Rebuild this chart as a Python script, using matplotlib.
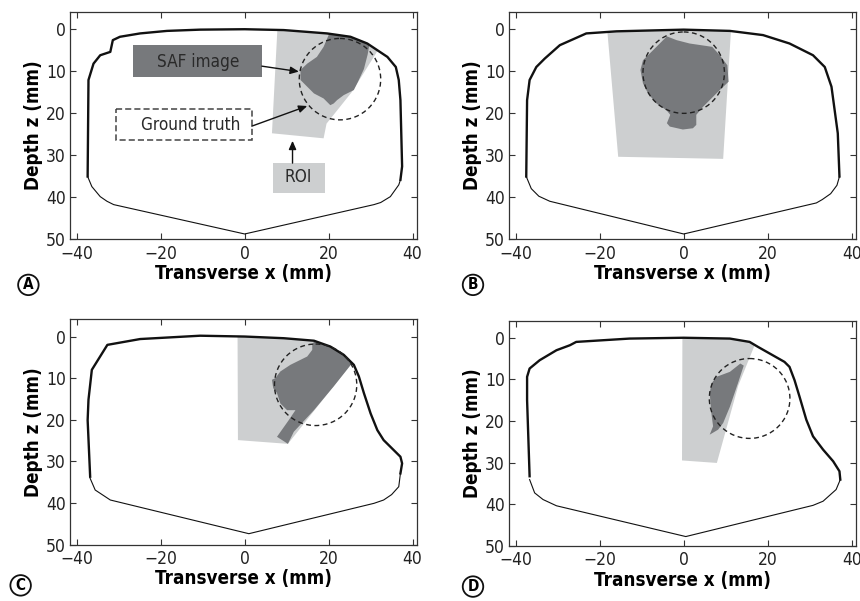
import matplotlib
matplotlib.use("Agg")
import matplotlib.pyplot as plt
from matplotlib.patches import Polygon, Circle, Rectangle

plt.rcParams['font.family'] = ['DejaVu Sans']
plt.rcParams['font.stretch'] = 'condensed'

ROI_COLOR = '#cdcfd0'
SAF_COLOR = '#77797c'

# ---- panel A ----
A_top_x = [-37.4, -37.2, -36.0, -34.4, -32.0, -31.4, -29.7, -24.9, -18.5, -10.6, 0, 9.3, 19.6, 25.2, 29.2, 34.0, 36.0, 36.7, 37.1, 37.5, 37.1]
A_top_z = [35.1, 12.1, 8.2, 6.2, 5.4, 2.6, 1.8, 1.0, 0.4, 0.1, 0, 0.2, 1.0, 1.8, 3.4, 6.6, 9.0, 12.1, 16.9, 32.7, 35.9]
A_bot_x = [37.1, 36.7, 34.7, 32.4, 30.8, 0, -31.2, -32.8, -34.4, -36.4, -37.4]
A_bot_z = [35.9, 37.1, 39.9, 41.3, 41.8, 48.8, 41.8, 41.0, 39.9, 37.5, 35.1]
A_roi_x = [7.9, 33.0, 25.5, 19.5, 18.8, 6.5]
A_roi_z = [-2.0, 3.0, 15.0, 22.5, 26.0, 24.8]
A_saf_x = [20.0, 20.0, 30.0, 29.3, 28.4, 27.0, 26.0, 23.6, 22.0, 21.2, 20.4, 18.8, 16.5, 14.9, 13.3, 13.3, 14.9, 17.2, 18.8]
A_saf_z = [1.4, -1.0, 2.0, 6.0, 9.5, 12.5, 14.5, 15.7, 16.9, 17.7, 18.1, 16.5, 15.3, 13.7, 12.1, 9.7, 8.2, 6.6, 4.2]
A_truth = (22.7, 11.9, 9.7)

# ---- panel B ----
B_top_x = [-37.5, -37.3, -36.7, -35.1, -33.1, -29.5, -23.2, -16.0, 0, 11.0, 18.9, 25.2, 30.8, 33.6, 35.2, 36.7, 37.1]
B_top_z = [35.1, 16.9, 12.1, 9.0, 7.0, 3.8, 1.0, 0.5, 0.1, 0.4, 1.4, 3.4, 6.2, 9.0, 13.7, 24.8, 35.1]
B_bot_x = [37.1, 36.5, 35.0, 33.0, 31.6, 0, -31.9, -34.5, -36.3, -37.5]
B_bot_z = [35.1, 37.2, 39.2, 40.6, 41.4, 48.8, 41.0, 39.8, 38.0, 35.1]
B_roi_x = [-18.4, 11.4, 9.4, -15.6]
B_roi_z = [-2.0, -2.0, 30.9, 30.4]
B_saf_x = [-4.0, -1.7, 1.4, 6.8, 8.6, 10.4, 10.7, 8.6, 6.6, 4.6, 3.0, 3.0, 2.2, -0.2, -3.3, -4.0, -3.2, -4.1, -6.5, -8.5, -9.7, -10.3, -9.7, -7.7, -5.7]
B_saf_z = [1.7, 2.6, 3.4, 4.2, 6.2, 8.6, 12.5, 14.5, 16.5, 18.5, 20.4, 22.8, 23.6, 23.9, 23.2, 22.4, 20.4, 19.3, 17.7, 15.3, 12.9, 9.7, 7.4, 5.4, 3.4]
B_truth = (0.0, 10.35, 9.7)

# ---- panel C ----
C_top_x = [-36.8, -37.4, -37.2, -36.4, -32.7, -24.9, -10.6, 0, 9.3, 16.5, 20.4, 23.6, 26.0, 27.2, 28.4, 30.0, 31.6, 33.1, 35.5, 37.1, 37.5, 37.1]
C_top_z = [33.7, 20.1, 15.2, 8.0, 2.0, 0.6, -0.2, 0, 0.4, 1.0, 2.4, 4.4, 6.8, 9.6, 13.6, 18.5, 22.5, 24.9, 27.3, 28.9, 30.5, 32.9]
C_bot_x = [37.1, 36.7, 35.0, 33.1, 30.8, 1.0, -32.0, -35.6, -36.8]
C_bot_z = [32.9, 36.1, 38.0, 39.3, 40.1, 47.4, 39.3, 36.9, 34.1]
C_roi_x = [-1.7, 30.0, 25.6, 10.3, -1.6]
C_roi_z = [-2.0, -2.0, 6.3, 25.8, 24.9]
C_saf_x = [16.1, 17.6, 30.0, 25.6, 21.2, 16.5, 11.7, 10.3, 7.7, 10.5, 12.1, 10.1, 8.5, 7.7, 6.8, 6.5, 7.3, 8.5, 10.9, 13.3, 14.9, 16.1]
C_saf_z = [2.0, -1.0, -1.0, 6.4, 12.0, 17.7, 22.9, 25.8, 24.1, 20.1, 17.7, 17.7, 16.1, 13.6, 12.4, 10.4, 10.0, 8.4, 6.8, 5.6, 4.8, 3.2]
C_truth = (16.9, 11.6, 9.8)

# ---- panel D ----
D_top_x = [-36.7, -37.3, -37.3, -36.7, -34.3, -30.3, -27.1, -25.6, -12.9, 0, 11.0, 15.7, 17.7, 20.5, 24.0, 25.2, 26.4, 27.6, 29.2, 30.8, 33.2, 35.6, 37.1, 37.3]
D_top_z = [33.3, 15.0, 9.4, 7.4, 5.4, 3.0, 1.8, 1.0, 0.2, 0, 0.2, 1.0, 2.2, 3.8, 5.8, 7.0, 10.2, 14.2, 19.7, 23.7, 26.9, 29.7, 32.1, 34.1]
D_bot_x = [37.3, 36.3, 33.2, 30.8, 0.5, -30.3, -33.5, -35.5, -36.7]
D_bot_z = [34.1, 36.5, 39.3, 40.3, 47.8, 40.4, 38.9, 37.3, 34.1]
D_roi_x = [-0.3, 18.0, 16.9, 13.0, 7.9, -0.4]
D_roi_z = [-2.0, -2.0, 1.8, 11.5, 30.1, 29.5]
D_saf_x = [7.8, 11.0, 13.5, 14.3, 12.9, 11.0, 9.4, 8.2, 6.2, 7.0, 6.6, 6.2, 6.6]
D_saf_z = [9.4, 8.2, 6.2, 6.7, 11.0, 16.6, 20.5, 22.1, 23.3, 21.3, 18.2, 13.4, 11.0]
D_truth = (15.7, 14.6, 9.6)

panels = [
    ('A', [0.0814, 0.6023, 0.4035, 0.3777], (0.033, 0.526),
     A_top_x, A_top_z, A_bot_x, A_bot_z, A_roi_x, A_roi_z, A_saf_x, A_saf_z, A_truth),
    ('B', [0.5919, 0.6023, 0.4035, 0.3777], (0.550, 0.526),
     B_top_x, B_top_z, B_bot_x, B_bot_z, B_roi_x, B_roi_z, B_saf_x, B_saf_z, B_truth),
    ('C', [0.0814, 0.0940, 0.4035, 0.3744], (0.024, 0.026),
     C_top_x, C_top_z, C_bot_x, C_bot_z, C_roi_x, C_roi_z, C_saf_x, C_saf_z, C_truth),
    ('D', [0.5919, 0.0920, 0.4035, 0.3744], (0.550, 0.024),
     D_top_x, D_top_z, D_bot_x, D_bot_z, D_roi_x, D_roi_z, D_saf_x, D_saf_z, D_truth),
]

fig = plt.figure(figsize=(8.6, 6.01), dpi=100)

for (letter, pos, lpos, tx, tz, bx, bz, rx, rz, sx, sz, truth) in panels:
    ax = fig.add_axes(pos)
    body = Polygon(list(zip(tx + bx, tz + bz)), closed=True, fc='none', ec='none')
    ax.add_patch(body)

    roi = Polygon(list(zip(rx, rz)), closed=True, fc=ROI_COLOR, ec='none', zorder=1)
    ax.add_patch(roi)
    roi.set_clip_path(body)
    saf = Polygon(list(zip(sx, sz)), closed=True, fc=SAF_COLOR, ec='none', zorder=2)
    ax.add_patch(saf)
    saf.set_clip_path(body)

    ax.plot(tx, tz, color='#111111', lw=1.7, zorder=4)
    ax.plot(bx, bz, color='#111111', lw=0.8, zorder=4)
    ax.add_patch(Circle(truth[:2], truth[2], fill=False, ls=(0, (3.5, 2.5)),
                        lw=1.0, ec='#222222', zorder=5))

    ax.set_xlim(-41.6, 41.05)
    ax.set_ylim(50, -4.1)
    ax.set_xticks([-40, -20, 0, 20, 40])
    ax.set_yticks([0, 10, 20, 30, 40, 50])
    ax.tick_params(direction='in', top=True, right=True, length=4, width=0.8,
                   color='#333333', labelsize=12.5, labelcolor='#222222')
    ax.tick_params(axis='x', pad=4)
    ax.tick_params(axis='y', pad=3)
    for s in ax.spines.values():
        s.set_color('#333333')
        s.set_linewidth(0.9)
    ax.set_xlabel('Transverse x (mm)', fontsize=13.5, fontweight='bold', labelpad=1)
    ax.set_ylabel('Depth z (mm)', fontsize=13.5, fontweight='bold', labelpad=2)

    fig.text(lpos[0], lpos[1], letter, fontsize=11, fontweight='bold', ha='center', va='center',
             bbox=dict(boxstyle='circle,pad=0.18', fc='white', ec='#111111', lw=1.3))

    if letter == 'A':
        ax.add_patch(Rectangle((-26.5, 3.8), 30.6, 7.5, fc=SAF_COLOR, ec='none', zorder=3))
        ax.text(-11.1, 7.7, 'SAF image', fontsize=12.3, color='#2a2a2a', ha='center', va='center', zorder=6)
        ax.add_patch(Rectangle((-30.6, 18.9), 32.3, 7.6, fc='white', ec='#444444',
                               ls=(0, (4, 2)), lw=1.1, zorder=3))
        ax.text(-12.9, 22.9, 'Ground truth', fontsize=12.3, color='#2a2a2a', ha='center', va='center', zorder=6)
        ax.add_patch(Rectangle((6.7, 31.9), 12.5, 7.2, fc=ROI_COLOR, ec='none', zorder=3))
        ax.text(12.7, 35.3, 'ROI', fontsize=12.3, color='#2a2a2a', ha='center', va='center', zorder=6)
        arrow = dict(arrowstyle='-|>,head_length=0.5,head_width=0.22', color='#111111', lw=1.0,
                     shrinkA=0, shrinkB=0)
        ax.annotate('', xy=(12.9, 10.1), xytext=(4.1, 8.8), arrowprops=arrow, zorder=6)
        ax.annotate('', xy=(14.9, 18.3), xytext=(1.7, 23.1), arrowprops=arrow, zorder=6)
        ax.annotate('', xy=(11.4, 26.6), xytext=(11.4, 31.9), arrowprops=arrow, zorder=6)

fig.savefig('out.png', dpi=100)
